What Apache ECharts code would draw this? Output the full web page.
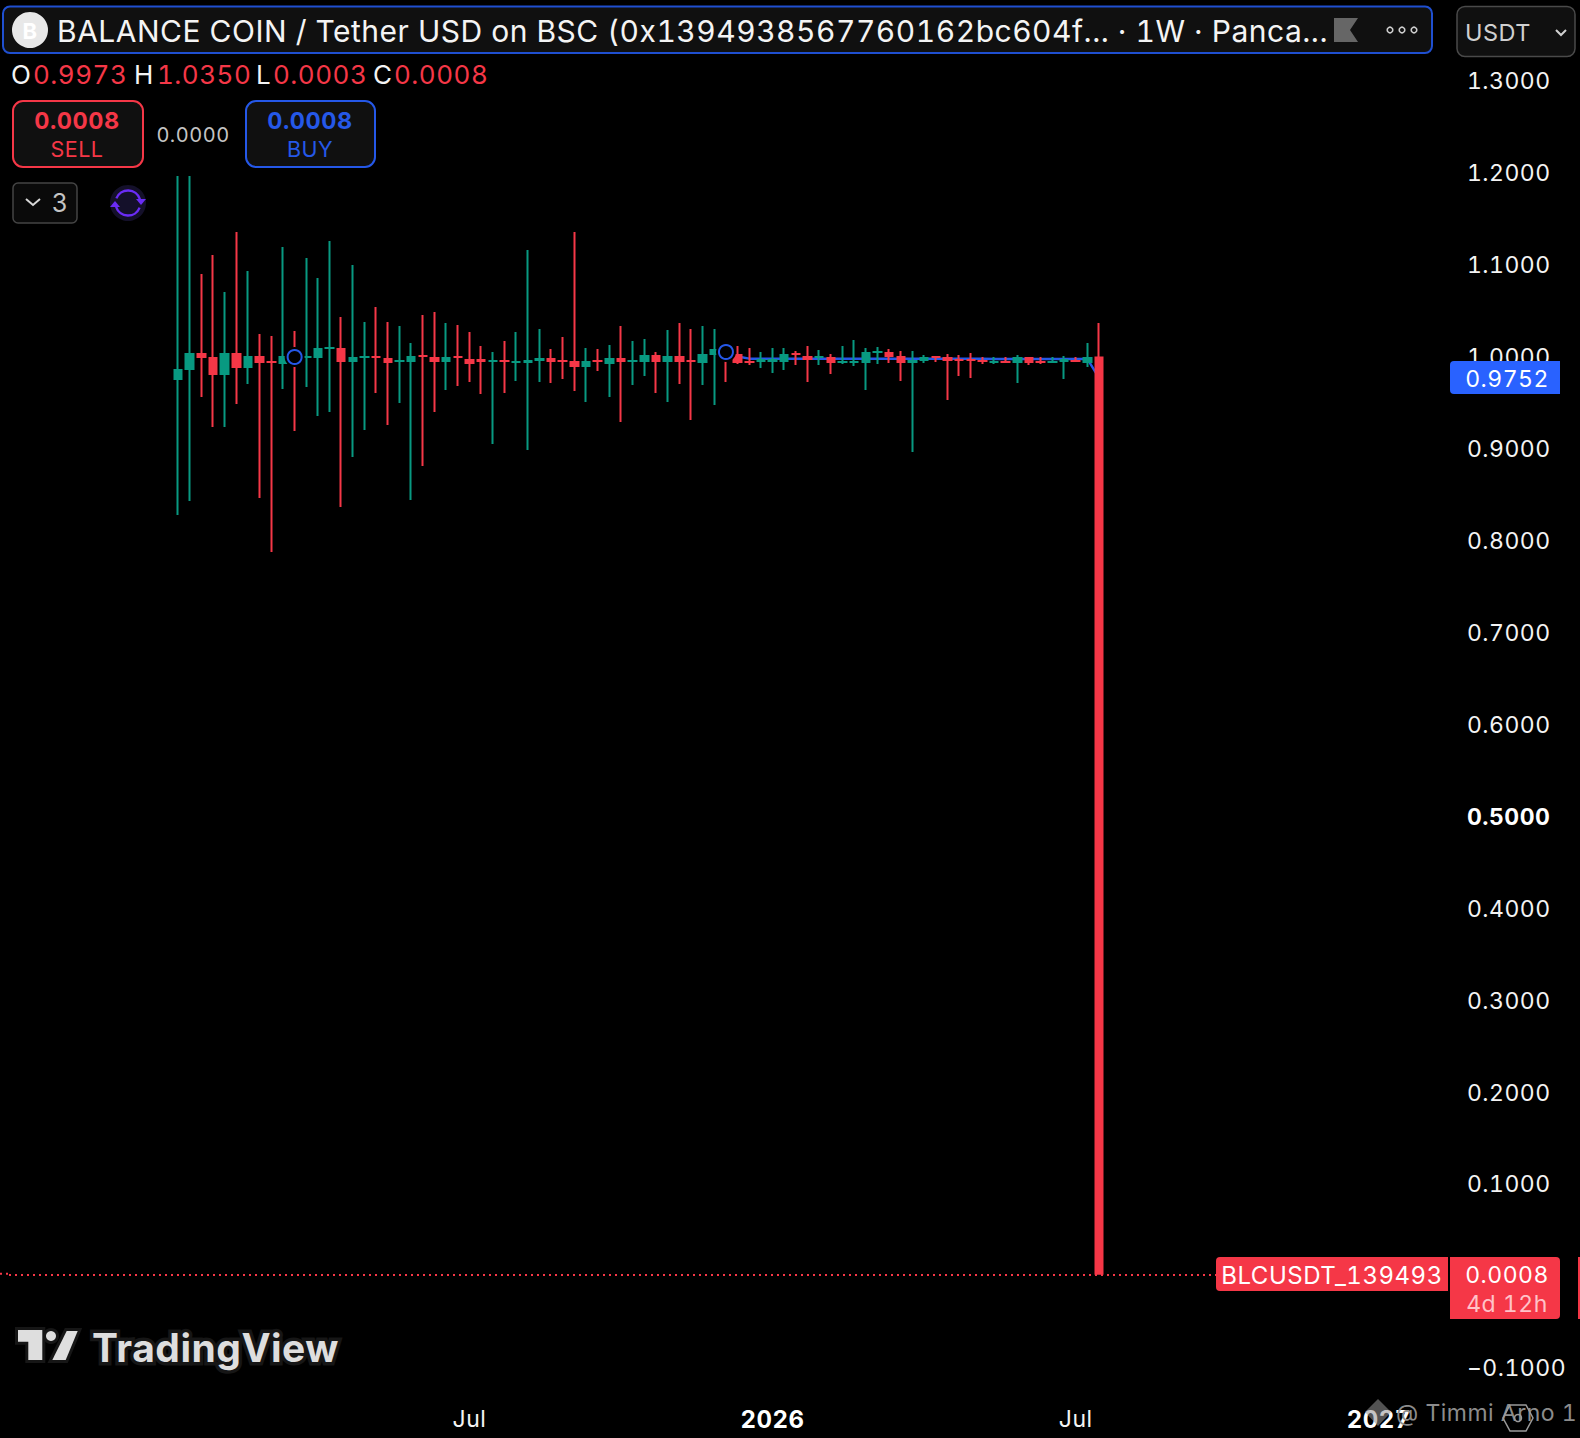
<!DOCTYPE html>
<html><head><meta charset="utf-8"><style>html,body{margin:0;padding:0;background:#000}#c{width:1580px;height:1438px}
#c text{font-feature-settings:"tnum" 1 !important;font-variant-numeric:tabular-nums !important;letter-spacing:.5px !important}</style>
<script src="https://cdn.jsdelivr.net/npm/echarts@6/dist/echarts.min.js"></script></head><body><div id="c"></div>
<script>
const opens=[.9740,.9849,1.0012,.9968,.9794,1.0012,.9871,.9979,.9926,.9914,.9980,.9979,.9979,1.0077,1.0066,.9936,.9979,.9980,.9958,.9936,.9936,.9991,.9968,.9936,.9980,.9947,
.9947,.9936,.9937,.9925,.9925,.9947,.9958,.9937,.9925,.9881,.9937,.9914,.9958,.9936,.9936,.9990,.9936,.9979,.9937,.9925,1.0012,1.0035,1.0001,.9926,.9936,.9936,.9936,
1.0013,.9979,.9979,.9968,.9925,.9925,.9925,1.0034,1.0023,.9979,.9925,.9947,.9980,.9968,.9948,.9948,.9937,.9925,.9926,.9925,.9968,.9926,.9925,.9936,.9937,.9925,.9973];
const closes=[.9838,1.0012,.9979,.9794,1.0012,.9871,.9979,.9925,.9925,.9979,.9979,.9980,1.0066,1.0078,.9936,.9968,.9980,.9979,.9925,.9937,.9979,.9990,.9936,.9968,.9979,.9914,
.9936,.9937,.9936,.9926,.9936,.9958,.9936,.9936,.9881,.9925,.9936,.9958,.9936,.9937,.9990,.9936,.9979,.9936,.9936,1.0001,1.0056,1.0034,.9925,.9925,.9947,.9947,1.0001,
1.0012,.9958,.9980,.9925,.9926,.9926,1.0023,1.0035,.9990,.9925,.9936,.9968,.9979,.9947,.9947,.9947,.9936,.9926,.9925,.9968,.9925,.9925,.9926,.9947,.9936,.9968,.0008];
const highs=[1.1948,1.1948,1.0882,1.1089,1.0686,1.1339,1.0915,1.0230,1.0208,1.1176,1.0262,1.1056,1.0839,1.1241,1.0414,1.0980,1.0360,1.0523,1.0360,1.0317,1.0132,1.0436,1.0469,1.0349,1.0327,1.0251,
1.0099,1.0034,1.0153,1.0251,1.1143,1.0284,1.0066,1.0197,1.1339,1.0077,1.0066,1.0110,1.0317,1.0153,1.0175,1.0034,1.0273,1.0349,1.0284,1.0317,1.0284,1.0099,1.0099,1.0077,1.0034,1.0077,1.0077,
1.0045,1.0099,1.0056,1.0012,1.0099,1.0164,1.0077,1.0088,1.0066,1.0045,1.0045,1.0001,.9990,1.0012,1.0001,1.0023,.9979,.9979,.9979,1.0001,.9979,.9979,.9979,.9990,.9979,1.0132,1.0350];
const lows=[.8261,.8413,.9544,.9218,.9218,.9468,.9686,.8446,.7858,.9631,.9174,.9653,.9338,.9381,.8348,.8892,.9185,.9588,.9240,.9479,.8424,.8794,.9381,.9620,.9664,.9707,
.9577,.9033,.9588,.9718,.8968,.9707,.9697,.9740,.9609,.9490,.9827,.9544,.9272,.9675,.9773,.9588,.9490,.9686,.9294,.9675,.9457,.9707,.9903,.9892,.9860,.9805,.9838,
.9892,.9707,.9892,.9794,.9903,.9881,.9620,.9903,.9914,.9718,.8946,.9914,.9925,.9512,.9773,.9751,.9903,.9903,.9914,.9697,.9892,.9903,.9914,.9740,.9925,.9871,.0003];
const blueLineStart=47;
const blueLine=[1.0034,.9985,.9961,.9961,.9961,.9961,.9961,.9961,.9961,.9961,.9961,.9961,.9961,.9961,.9961,.9961,.9961,.9961,.9961,.9961,.9960,.9960,.9960,.9958,.9958,.9958,.9958,.9958,.9958,.9958,.9958,.9958,.9752];
const ringIndex=[10,47];
const ringValue=[.9979,1.0034];
const firstWeek='2025-01-06';
const padBefore=14, padAfter=29;
const tickLabels={'2025-06-30':'Jul','2025-12-29':'{b|2026}','2026-06-29':'Jul','2026-12-28':'{b|2027}'};
const lastPrice=.0008;
const RED='#f53747',GREEN='#089981',BLUE='#2558e8',FONT='Inter, "Noto Sans", sans-serif';

const categories=[];
for(let i=-padBefore;i<opens.length+padAfter;i++){
  categories.push(new Date(Date.parse(firstWeek)+i*7*864e5).toISOString().slice(0,10));
}
const candles=categories.map((_,k)=>{const i=k-padBefore;
  return i>=0&&i<opens.length?[opens[i],closes[i],lows[i],highs[i]]:['-','-','-','-'];});
const lineData=categories.map((_,k)=>{const i=k-padBefore-blueLineStart;
  return i>=0&&i<blueLine.length?blueLine[i]:null;});
const rings=ringIndex.map((x,i)=>[x+padBefore,ringValue[i]]);

const txt=(x,y,text,fill,size,weight,align)=>({type:'text',z:100,style:{x,y:y+2,text,fill,
  font:(weight||'normal')+' '+size+'px '+FONT,textAlign:align||'left',textVerticalAlign:'middle'}});
const box=(x,y,w,h,r,fill,stroke,lw)=>({type:'rect',z:100,shape:{x,y,width:w,height:h,r},style:{fill,stroke:stroke||'none',lineWidth:lw||0}});
const poly=(points,fill,stroke,lw)=>({type:'polygon',z:100,shape:{points},style:{fill,stroke:stroke||'none',lineWidth:lw||0}});
const pl=(points,stroke,lw)=>({type:'polyline',z:100,shape:{points},style:{fill:'none',stroke,lineWidth:lw}});
const arc=(cx,cy,r,a,b,stroke,lw)=>({type:'arc',z:100,shape:{cx,cy,r,startAngle:a,endAngle:b,clockwise:true},style:{fill:'none',stroke,lineWidth:lw}});
const circ=(cx,cy,r,fill,stroke,lw)=>({type:'circle',z:100,shape:{cx,cy,r},style:{fill,stroke:stroke||'none',lineWidth:lw||0}});
const logoT=[[18,1330],[42.3,1330],[42.3,1360],[28.3,1360],[28.3,1341.7],[18,1341.7]];
const logoS=[[66.7,1331],[77.7,1331],[65.7,1360],[52.3,1360]];
const logoFont='700 39px '+FONT;

const chrome=[
 box(3,6.5,1429,46.5,7,'#101010','#1f4fd0',2),
 circ(30,30,18,'#e8e8e8'),
 txt(30,29,'B','#ffffff',22,'bold','center'),
 txt(57,29,'BALANCE COIN / Tether USD on BSC (0x1394938567760162bc604f... · 1W · Panca...','#f4f4f4',30),
 poly([[1334,18],[1358,18],[1350,30],[1358,42],[1334,42]],'#666666'),
 circ(1390,30,2.8,'none','#cccccc',1.6),circ(1402,30,2.8,'none','#cccccc',1.6),circ(1414,30,2.8,'none','#cccccc',1.6),
 box(1457,6.5,118,50,8,'#101010','#4a4a4a',1.5),
 txt(1465,30,'USDT','#d0d0d0',23.5),
 pl([[1556,30],[1561,35],[1566,30]],'#d0d0d0',2),
 txt(11,72.5,'O','#f4f4f4',26),txt(33,72.5,'0.9973',RED,26),
 txt(134,72.5,'H','#f4f4f4',26),txt(157,72.5,'1.0350',RED,26),
 txt(256,72.5,'L','#f4f4f4',26),txt(273,72.5,'0.0003',RED,26),
 txt(373,72.5,'C','#f4f4f4',26),txt(394,72.5,'0.0008',RED,26),
 box(13,101,130,66,10,'#101010',RED,2),
 txt(77,118,'0.0008',RED,23.5,'bold','center'),txt(77,147,'SELL',RED,21.5,'normal','center'),
 txt(193,133,'0.0000','#c4c4c4',20,'normal','center'),
 box(246,101,129,66,10,'#101010',BLUE,2),
 txt(310,118,'0.0008',BLUE,23.5,'bold','center'),txt(310,147,'BUY',BLUE,21.5,'normal','center'),
 box(13,183,64,40,5,'#0a0a0a','#444444',1.5),
 pl([[26,199],[33,205],[40,199]],'#d8d8d8',2),
 txt(60,201,'3','#c4c4c4',25,'normal','center'),
 circ(128,203,18,'#14102a'),
 arc(128,203,12.5,1.12*Math.PI,1.9*Math.PI,'#6a2cf5',2.4),
 arc(128,203,12.5,0.12*Math.PI,0.9*Math.PI,'#6a2cf5',2.4),
 poly([[136,199],[146,199],[141,205]],'#6a2cf5'),
 poly([[110,207],[120,207],[115,201]],'#6a2cf5'),
 poly(logoT,'#161616','#161616',6),poly(logoS,'#161616','#161616',6),circ(51,1336,5,'#161616','#161616',6),
 poly(logoT,'#dedede'),circ(51,1336,5,'#dedede'),poly(logoS,'#dedede'),
 {type:'text',z:100,style:{x:92,y:1347,text:'TradingView',fill:'#161616',stroke:'#161616',lineWidth:7,font:logoFont,textAlign:'left',textVerticalAlign:'middle'}},
 {type:'text',z:100,style:{x:92,y:1347,text:'TradingView',fill:'#dedede',font:logoFont,textAlign:'left',textVerticalAlign:'middle'}},
 box(1450,361,110,33,[4,0,0,4],'#2962ff'),
 txt(1507,377,'0.9752','#ffffff',23,'normal','center'),
 box(1216,1257,232,34,[4,0,0,4],RED),
 txt(1332,1273,'BLCUSDT_139493','#ffffff',24,'normal','center'),
 box(1450,1257,110,62,[0,4,4,0],RED),
 txt(1507,1273,'0.0008','#ffffff',23,'normal','center'),
 txt(1507,1302,'4d 12h','#ffc2c8',23,'normal','center'),
 box(1578,1257,2,62,0,RED),
 pl([[0,1273.7],[9,1273.7]],RED,0),
 {type:'line',z:1,shape:{x1:0,y1:1273.7,x2:9,y2:1273.7},style:{stroke:RED,lineWidth:2,lineDash:[2,4]}},
 poly([[1378,1399],[1391,1412],[1378,1426],[1365,1412]],'rgba(150,150,150,0.55)'),
 txt(1396,1411,'@ Timmi Arno 1','#8c8c8c',23),
 poly([[1510,1405],[1526,1405],[1533,1418],[1526,1431],[1510,1431],[1503,1418]],'none','#9a9a9a',1.5),
 circ(1518,1418,3.5,'none','#9a9a9a',1.5)
];

const chart=echarts.init(document.getElementById('c'),null,{renderer:'svg'});
chart.setOption({
 animation:false,backgroundColor:'#000000',
 grid:{left:9,width:1433.9,top:79.31,bottom:71.67},
 xAxis:{type:'category',data:categories,boundaryGap:true,
  axisLine:{show:false,onZero:false},axisTick:{show:false},splitLine:{show:false},
  axisLabel:{interval:(i,v)=>v in tickLabels,margin:41,color:'#f4f4f4',fontSize:23,fontFamily:FONT,
    formatter:v=>tickLabels[v]||'',hideOverlap:false,rich:{b:{fontWeight:'bold',fontSize:24,color:'#ffffff',fontFamily:FONT}}}},
 yAxis:{type:'value',position:'right',min:-0.1,max:1.3,interval:0.1,scale:false,
  axisLine:{show:false},axisTick:{show:false},splitLine:{show:false},
  axisLabel:{margin:24,align:'left',color:'#f4f4f4',fontSize:23,fontFamily:FONT,padding:[4,0,0,0],
    formatter:v=>{const s=Math.abs(v).toFixed(4);
      if(Math.abs(v-0.5)<1e-6)return '{b|'+s+'}';
      return (v<-1e-6?'\u2212':'')+s;},
    rich:{b:{fontWeight:'bold',fontSize:23,color:'#ffffff',fontFamily:FONT}}}},
 series:[
  {type:'line',name:'Blue line',data:lineData,z:2,symbol:'none',connectNulls:false,lineStyle:{color:BLUE,width:2.4}},
  {type:'candlestick',name:'BLCUSDT',data:candles,z:3,barWidth:8,
   itemStyle:{color:GREEN,color0:RED,borderColor:GREEN,borderColor0:RED,borderWidth:2},
   markLine:{silent:true,symbol:'none',label:{show:false},animation:false,
     lineStyle:{color:RED,type:[2,4],width:2},data:[{yAxis:lastPrice}]}},
  {type:'scatter',name:'Ring mask',data:rings,z:4,symbol:'circle',symbolSize:20,itemStyle:{color:'#000000',opacity:1}},
  {type:'scatter',name:'Ring',data:rings,z:5,symbol:'circle',symbolSize:14,itemStyle:{color:'#000000',borderColor:BLUE,borderWidth:2,opacity:1}}
 ],
 graphic:{elements:chrome}
});
</script></body></html>
